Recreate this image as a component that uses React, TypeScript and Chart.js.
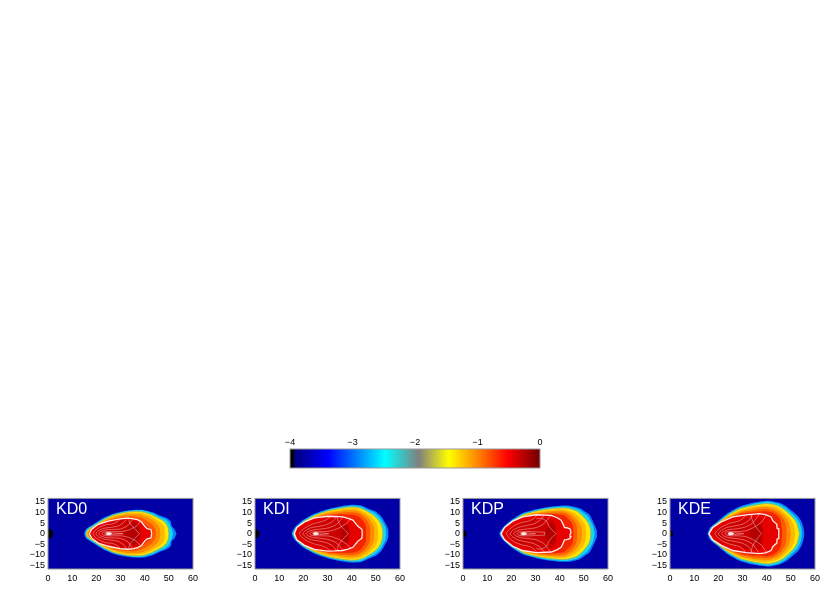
import React, { useEffect, useRef } from "react";
import { Chart, registerables } from "chart.js";

Chart.register(...registerables);

const FONT = "'Liberation Sans', Arial, sans-serif";

const panelNames = ["KD0", "KDI", "KDP", "KDE"];
const xTickValues = [0, 10, 20, 30, 40, 50, 60];
const yTickValues = [-15, -10, -5, 0, 5, 10, 15];
const barTickValues = [-4, -3, -2, -1, 0];

// Outer to inner: filled levels of each panel, upper half as x,y pairs
const bandColors = ["#0a80ff", "#14d8e8", "#ffe800", "#ffb800", "#ff8c00", "#ff5a00", "#f42400", "#e60000", "#cc0000", "#b40000"];
const bandEdges = ["#0a80ff", "#14d8e8", "#a8a860", "#ffb800", "#ff8c00", "#ff5a00", "#f42400", "#ffeeee", "#cc0000", "#b40000"];

const kd0Bands = [
  [15, 0, 15.7, 2.1, 18.7, 4.4, 22.9, 7.4, 27, 9.4, 31.2, 10.6, 35.3, 11.2, 39.4, 11.2, 43.6, 10, 46.3, 8.5, 49, 7.4, 50.8, 5.9, 51.2, 3.6, 52.4, 2.1, 53.2, 0],
  [15.4, 0, 16, 1.9, 19, 4.2, 23.2, 7.1, 27.2, 9.1, 31.4, 10.3, 35.3, 10.9, 39.3, 10.9, 43.3, 9.6, 46, 8, 48.6, 6.8, 50, 5.3, 50.7, 3.4, 51.4, 1.9, 51.8, 0],
  [15.8, 0, 16.5, 1.7, 19.4, 3.9, 23.5, 6.8, 27.4, 8.8, 31.5, 9.9, 35.2, 10.4, 39, 10.3, 42.5, 9.1, 45.5, 7.4, 47.7, 6, 49, 4.5, 49.8, 2.5, 50, 0],
  [16.1, 0, 16.9, 1.6, 19.8, 3.7, 23.8, 6.5, 27.6, 8.4, 31.6, 9.4, 35.1, 9.8, 38.7, 9.6, 41.8, 8.5, 44.6, 6.8, 46.7, 5.2, 48, 3.5, 48.4, 0],
  [16.4, 0, 17.2, 1.6, 20.1, 3.9, 24, 6.3, 27.8, 8, 31.7, 8.9, 35.1, 9.1, 38.3, 8.9, 41, 7.8, 43.5, 6.1, 45.4, 4.2, 46.3, 2, 46.5, 0],
  [16.7, 0, 17.5, 1.8, 20.4, 4.1, 24.4, 5.9, 28.5, 7.4, 32, 8, 35.2, 8.2, 38.2, 7.7, 40.5, 6.5, 42.5, 5, 44, 3, 44.6, 1.5, 44.7, 0],
  [17, 0, 17.8, 2, 20.6, 4.2, 24.7, 5.8, 29.5, 7, 35.3, 7.1, 39, 5.6, 41, 3.5, 43, 2, 43.2, 0],
  [17.1, 0, 18.1, 2.1, 20.8, 4.4, 25, 5.9, 29.8, 7, 33, 7.3, 35.3, 7, 37, 6.6, 38.7, 5.5, 40, 3.5, 41, 2.4, 42.6, 2, 42.9, 0],
  [19, 0, 20, 2, 23, 4, 27, 5.5, 31, 6.4, 35, 6.5, 37.6, 5, 38.2, 3, 37.5, 0],
  [32, 0, 33, 3, 35.5, 5, 37, 4, 38, 1.5, 38.4, 0],
];
const kdiBands = [
  [15.2, 0, 16.4, 2.9, 19.8, 6.4, 24.6, 9.4, 30, 11.5, 35.6, 12.9, 40, 13.6, 44, 13.3, 46.6, 12, 50, 10.4, 52.2, 8.2, 53.2, 6.5, 54.6, 3.6, 55.2, 1.5, 55.2, 0],
  [15.6, 0, 16.8, 2.8, 20.1, 6.1, 24.8, 9.1, 30.2, 11.2, 35.7, 12.5, 40, 13.1, 43.7, 12.8, 46.2, 11.5, 49.4, 9.8, 51.6, 7.6, 52.8, 5.5, 53.9, 3.2, 54.3, 0],
  [16, 0, 17.2, 2.7, 20.4, 5.8, 25, 8.7, 30.4, 10.8, 35.8, 12, 40, 12.5, 43.3, 12.1, 45.8, 10.9, 48.6, 9, 50.8, 6.8, 52, 4.8, 52.7, 2.4, 52.9, 0],
  [16.3, 0, 17.5, 2.7, 20.7, 5.5, 25.2, 8.3, 30.5, 10.3, 35.9, 11.4, 40, 11.8, 43, 11.4, 45.3, 10.2, 47.8, 8.2, 49.6, 6, 50.6, 3.8, 51, 0],
  [16.6, 0, 17.7, 2.7, 21, 5.2, 25.3, 7.9, 30.6, 9.8, 36, 10.7, 40, 11, 42.7, 10.6, 44.8, 9.4, 47, 7.4, 48.4, 5.3, 49.2, 3, 49.4, 0],
  [16.8, 0, 17.9, 2.7, 21.2, 5.1, 25.4, 7.6, 30.6, 9.2, 36, 9.9, 40, 10.1, 42.4, 9.7, 44.2, 8.6, 46, 6.7, 47.2, 4.5, 47.7, 2.2, 47.7, 0],
  [17, 0, 18, 2.7, 21.2, 5.1, 25.2, 7.4, 30.5, 8.7, 36.1, 9, 40.2, 8.9, 42.2, 8.4, 43.7, 7.3, 45.1, 5.5, 45.9, 3.5, 46, 0],
  [16.3, 0, 17.3, 2.9, 20.5, 5.5, 24.6, 7.4, 30.1, 8.2, 33, 8.1, 36.3, 7.9, 38.5, 7.2, 40.5, 6.4, 41.5, 5, 42.5, 3.6, 44.2, 2.1, 44.4, 0],
  [18, 0, 19, 2, 22, 4.2, 26, 5.9, 30.5, 7, 35, 7, 37.5, 6, 38.5, 4, 38.7, 2, 38.5, 0],
  [35.5, 0, 36, 2.5, 37.5, 4.5, 38.8, 3, 39.2, 0],
];
const kdpBands = [
  [15, 0, 16.5, 2.9, 19.9, 6.4, 24.7, 9.7, 30.3, 11.5, 35.8, 12.7, 40.5, 13.2, 44, 13.2, 48.4, 12, 50.5, 10.4, 52.3, 9, 53.5, 6.5, 54.5, 4, 55.4, 1.5, 55.4, 0],
  [15.4, 0, 16.9, 2.8, 20.2, 6.1, 24.9, 9.4, 30.5, 11.2, 35.9, 12.3, 40.4, 12.8, 43.7, 12.7, 47.8, 11.4, 49.9, 9.8, 51.6, 8.2, 52.8, 6, 53.9, 3.5, 54.5, 0],
  [15.8, 0, 17.3, 2.7, 20.5, 5.8, 25.1, 9, 30.6, 10.7, 36, 11.7, 40.3, 12.1, 43.3, 12, 47, 10.7, 49, 8.9, 50.6, 7, 52, 4.8, 52.7, 2.4, 52.9, 0],
  [16, 0, 17.5, 2.7, 20.8, 5.6, 25.3, 8.6, 30.8, 10.2, 36.1, 11.1, 40.2, 11.5, 43, 11.2, 46, 9.8, 48, 7.9, 49.5, 6, 50.6, 3.8, 51, 0],
  [16.2, 0, 17.6, 2.7, 21, 5.5, 25.4, 8.2, 30.9, 9.8, 36.2, 10.6, 40.1, 10.8, 42.6, 10.4, 45, 9, 46.9, 7, 48.2, 5, 49, 3, 49.3, 0],
  [16.4, 0, 17.8, 2.7, 21.2, 5.5, 25.5, 8, 30.9, 9.4, 36.3, 9.9, 40, 10, 42.2, 9.6, 44.2, 8.2, 45.8, 6.3, 46.9, 4.2, 47.2, 2, 47.2, 0],
  [16.6, 0, 18, 2.7, 21.3, 5.6, 25.5, 7.9, 30.8, 9.1, 36.4, 9.3, 40, 9, 42, 8.5, 43.3, 7.1, 44.8, 5.4, 45.5, 3.3, 45.7, 0],
  [15.8, 0, 17.2, 2.9, 20.6, 5.9, 24.7, 7.9, 30.3, 8.9, 36.5, 8.6, 39, 7.5, 40.6, 6.4, 41.4, 4.5, 42, 2.9, 42.8, 2.8, 44.2, 2.3, 44.6, 1.4, 44.3, 0],
  [17.5, 0, 18.8, 2, 22, 4.4, 26.3, 6.2, 31, 7.3, 35.5, 7.2, 37.5, 6, 38.5, 3.5, 38.6, 0],
  [33.5, 0, 34.5, 2.3, 36.5, 5, 38, 3, 38.5, 0],
];
const kdeBands = [
  [15.6, 0, 16.6, 2.9, 19.8, 5.9, 23.9, 9.7, 28.7, 12.7, 34.3, 14.5, 40.4, 15.5, 45.3, 14.5, 48.5, 12.6, 50.7, 10.5, 53, 8.2, 54.3, 5.9, 55.2, 3, 55.6, 0],
  [16, 0, 17, 2.8, 20.1, 5.7, 24.2, 9.4, 29, 12.3, 34.5, 14, 40.3, 15, 45, 14, 48, 12, 50.1, 9.9, 52.3, 7.6, 53.5, 5.4, 54.3, 2.8, 54.6, 0],
  [16.3, 0, 17.3, 2.7, 20.4, 5.5, 24.5, 9, 29.2, 11.8, 34.6, 13.3, 40.2, 14.2, 44.5, 13.2, 47.3, 11.3, 49.4, 9.2, 51.3, 7, 52.5, 4.8, 53.1, 2.5, 53.6, 0],
  [16.6, 0, 17.6, 2.8, 20.7, 5.5, 24.8, 8.6, 29.4, 11.2, 34.8, 12.7, 40.1, 13.3, 44, 12.4, 46.6, 10.6, 48.6, 8.5, 50.1, 6.4, 51.3, 4, 51.8, 0],
  [16.8, 0, 17.8, 2.8, 21, 5.5, 25, 8.3, 29.6, 10.7, 35, 12, 40, 12.5, 43.5, 11.6, 46, 9.9, 47.8, 7.7, 49, 5.7, 49.7, 3.2, 50, 0],
  [17, 0, 18, 2.8, 21.2, 5.4, 25.2, 8, 29.8, 10.1, 35.1, 11.2, 40, 11.6, 43, 10.8, 45.3, 9.1, 46.9, 6.9, 47.8, 5, 48.2, 2.5, 48.2, 0],
  [17.1, 0, 18.1, 2.9, 21.3, 5.5, 25.6, 7.8, 30, 9.5, 35.2, 10.3, 39.9, 10.6, 42.5, 9.9, 44.6, 8.2, 45.8, 6, 46.2, 3, 46.4, 0],
  [16.1, 0, 17.7, 2.9, 21.2, 5.5, 26, 7.9, 31.5, 8.9, 37, 9.4, 39.5, 9, 41.8, 7.9, 42.6, 6, 44.2, 4.4, 44.3, 2.5, 45, 2.3, 45, 0],
  [18, 0, 19.3, 2, 22.5, 4.2, 27, 6.2, 32, 7.4, 36.5, 7.6, 38, 6, 38.3, 3.5, 38, 0],
  [33, 0, 34, 2.5, 36, 5, 38, 3.5, 38.4, 0],
];

// Thin interior contour lines, upper half as x,y pairs
const kd0Lines = [
  [18.6, 0, 19.4, 1.4, 21.2, 3, 24, 4.2, 26.8, 4.6, 28.6, 5.6, 30, 7],
  [19.8, 0, 20.8, 1.4, 23, 2.5, 26, 3, 29, 3.6, 31, 5, 32.5, 6.8],
  [21, 0, 21.8, 1, 24, 1.8, 27, 2, 30, 2.2, 33, 3.8, 35, 6.8],
  [22.3, 0, 23, 0.7, 25, 1, 27.5, 1, 30.5, 1, 33.5, 1.8, 36.5, 3.5, 38.2, 5.5],
  [23.4, 0, 24, 0.4, 25.5, 0.5, 27.5, 0.3, 31, 0],
  [37.8, 0, 36.5, 1.5, 35, 3.4, 33.8, 5, 33.4, 6.8],
];
const kdiLines = [
  [18.4, 0, 19.4, 1.6, 21.6, 3.4, 24.5, 4.8, 27.4, 5.6, 29.6, 6.6, 31, 8],
  [19.8, 0, 20.8, 1.4, 23.2, 2.8, 26.2, 3.4, 29.4, 4.2, 32, 5.6, 33.8, 8],
  [21.2, 0, 22, 1, 24.2, 1.8, 27.4, 2.2, 30.6, 2.8, 33.8, 4.4, 36.4, 7.8],
  [22.6, 0, 23.2, 0.7, 25.2, 1, 28, 1, 31, 1.2, 34.6, 2.6, 38, 5, 39.4, 6.8],
  [23.8, 0, 24.4, 0.4, 25.8, 0.5, 27.8, 0.3, 30.5, 0],
  [38.6, 0, 37.2, 1.6, 35.6, 3.6, 34.4, 5.8, 34, 8],
];
const kdpLines = [
  [18, 0, 19, 1.8, 21.2, 3.8, 24.2, 5.2, 27.4, 6, 29.4, 7.2, 30.6, 8.8],
  [19.5, 0, 20.5, 1.5, 23, 3, 26, 3.8, 29.2, 4.6, 31.8, 6.2, 33.6, 8.7],
  [20.9, 0, 21.8, 1, 24, 1.9, 27.2, 2.3, 30.4, 2.9, 33.4, 4.6, 36.2, 8.4],
  [22.3, 0, 23, 0.7, 25, 1, 27.8, 1, 31, 0.8, 34, 0.6, 33.5, 0],
  [23.5, 0, 24.2, 0.4, 25.6, 0.5, 27.6, 0.3, 30, 0],
  [38.4, 0, 37, 1.5, 35.5, 3.6, 34.6, 5.8, 32.6, 7.2, 30.4, 7],
];
const kdeLines = [
  [18.6, 0, 19.6, 1.6, 22, 3.6, 25, 5, 28, 5.8, 30, 7, 31.4, 8.8],
  [20, 0, 21, 1.4, 23.4, 2.9, 26.6, 3.6, 29.8, 4.4, 32.4, 6, 34.2, 9],
  [21.4, 0, 22.2, 1, 24.4, 1.9, 27.6, 2.3, 30.8, 3, 34, 4.8, 37, 9.2],
  [22.7, 0, 23.4, 0.7, 25.4, 1, 28.2, 1, 31.4, 1.4, 34.8, 3, 38, 5.6, 39.8, 8.8],
  [23.9, 0, 24.5, 0.4, 25.9, 0.5, 27.9, 0.3, 30.5, 0],
  [37.8, 0, 36.4, 1.8, 35, 4.2, 34, 6.4, 33.6, 8.8],
];
const hotCore = [24, 0, 24.6, 0.6, 25.6, 0.6, 26.4, 0];

const panelBands = [kd0Bands, kdiBands, kdpBands, kdeBands];
const panelLines = [kd0Lines, kdiLines, kdpLines, kdeLines];
const planetRadius = [5, 4.5, 3.5, 3];
const plotLefts = [48, 255, 463, 670];

const barStops = [0, 0.012, 0.02, 0.153, 0.267, 0.38, 0.515, 0.635, 0.755, 0.87, 0.985, 1];
const barColors = ["#000000", "#000000", "#00007f", "#0000ff", "#0080ff", "#00ffff", "#808080", "#ffff00", "#ff8000", "#ff0000", "#800000", "#800000"];

// Turns an upper-half list of x,y pairs into the whole outline, lower half mirrored.
function outline(flat: number[]) {
  const top: { x: number; y: number }[] = [];
  for (let i = 0; i < flat.length; i += 2) top.push({ x: flat[i], y: flat[i + 1] });
  const lower = top.map((p) => ({ x: p.x, y: -p.y }));
  return [...top.slice().reverse(), ...lower.slice(1)];
}

const minus = (v: number) => String(v).replace("-", "\u2212");

function framePlugin(label?: string) {
  return {
    id: "frame",
    afterDraw(chart: any) {
      const { ctx, chartArea: a } = chart;
      ctx.save();
      ctx.strokeStyle = "#999999";
      ctx.lineWidth = 1;
      ctx.strokeRect(a.left, a.top, a.right - a.left, a.bottom - a.top);
      if (label) {
        ctx.fillStyle = "#ffffff";
        ctx.font = `16px ${FONT}`;
        ctx.textBaseline = "alphabetic";
        ctx.fillText(label, a.left + 8, a.top + 16);
      }
      ctx.restore();
    },
  };
}

function Panel({ index }: { index: number }) {
  const ref = useRef<HTMLCanvasElement>(null);
  useEffect(() => {
    const bands = panelBands[index].map((b, i) => ({
      data: outline(b),
      showLine: true,
      fill: "shape",
      backgroundColor: bandColors[i],
      borderColor: bandEdges[i],
      borderWidth: i === 7 ? 1.3 : i === 2 ? 0.8 : 0,
      tension: i === 7 ? 0 : 0.2,
      pointRadius: 0,
      order: 100 - i,
    }));
    const lines = panelLines[index].map((l, i) => ({
      data: outline(l),
      showLine: true,
      fill: false,
      borderColor: "rgba(255,215,215,0.65)",
      borderWidth: 0.7,
      tension: 0.2,
      pointRadius: 0,
      order: 50 - i,
    }));
    const core = {
      data: outline(hotCore),
      showLine: true,
      fill: "shape",
      backgroundColor: "#ffe8e8",
      borderColor: "#ffffff",
      borderWidth: 0.5,
      pointRadius: 0,
      order: 10,
    };
    const planet = {
      data: [{ x: 0, y: 0 }],
      showLine: false,
      backgroundColor: "#000000",
      borderWidth: 0,
      pointRadius: planetRadius[index],
      order: 5,
    };
    const tickFont = { family: FONT, size: 9 };
    const chart = new Chart(ref.current!, {
      type: "scatter",
      data: { datasets: [...bands, ...lines, core, planet] as any },
      options: {
        animation: false,
        responsive: false,
        layout: { padding: { top: 6, right: 15, left: 0, bottom: 0 } },
        plugins: { legend: { display: false }, tooltip: { enabled: false } },
        scales: {
          x: {
            type: "linear",
            min: 0,
            max: 60,
            grid: { display: false, drawTicks: false },
            border: { display: false },
            afterBuildTicks: (s: any) => {
              s.ticks = xTickValues.map((value) => ({ value }));
            },
            afterFit: (s: any) => {
              s.height = 21;
            },
            ticks: { color: "#000", font: tickFont, padding: 4, maxRotation: 0, autoSkip: false },
          },
          y: {
            type: "linear",
            min: -16.6,
            max: 16.6,
            grid: { display: false, drawTicks: false },
            border: { display: false },
            afterBuildTicks: (s: any) => {
              s.ticks = yTickValues.map((value) => ({ value }));
            },
            afterFit: (s: any) => {
              s.width = 40;
            },
            ticks: { color: "#000", font: tickFont, padding: 3, autoSkip: false, callback: (v: any) => minus(v) },
          },
        },
      },
      plugins: [
        {
          id: "bg",
          beforeDatasetsDraw(c: any) {
            const { ctx, chartArea: a } = c;
            ctx.fillStyle = "#0000a4";
            ctx.fillRect(a.left, a.top, a.right - a.left, a.bottom - a.top);
          },
        },
        framePlugin(panelNames[index]),
      ],
    } as any);
    return () => chart.destroy();
  }, [index]);
  return (
    <canvas
      ref={ref}
      width={200}
      height={100}
      style={{ position: "absolute", left: plotLefts[index] - 40, top: 490, width: 200, height: 100, filter: "blur(0.5px)" }}
    />
  );
}

function ColorBar() {
  const ref = useRef<HTMLCanvasElement>(null);
  useEffect(() => {
    const chart = new Chart(ref.current!, {
      type: "bar",
      data: {
        labels: ["scale"],
        datasets: [
          {
            data: [[-4, 0]],
            barPercentage: 1,
            categoryPercentage: 1,
            borderWidth: 0,
            backgroundColor: (c: any) => {
              const { ctx, chartArea: a } = c.chart;
              if (!a) return "#0000ff";
              const g = ctx.createLinearGradient(a.left, 0, a.right, 0);
              barStops.forEach((s, i) => g.addColorStop(s, barColors[i]));
              return g;
            },
          },
        ],
      },
      options: {
        animation: false,
        responsive: false,
        indexAxis: "y",
        layout: { padding: { left: 20, right: 20, top: 0, bottom: 12 } },
        plugins: { legend: { display: false }, tooltip: { enabled: false } },
        scales: {
          x: {
            type: "linear",
            position: "top",
            min: -4,
            max: 0,
            grid: { display: false, drawTicks: false },
            border: { display: false },
            afterBuildTicks: (s: any) => {
              s.ticks = barTickValues.map((value) => ({ value }));
            },
            afterFit: (s: any) => {
              s.height = 19;
            },
            ticks: { color: "#000", font: { family: FONT, size: 9 }, padding: 1, maxRotation: 0, autoSkip: false, callback: (v: any) => minus(v) },
          },
          y: { display: false },
        },
      },
      plugins: [framePlugin()],
    } as any);
    return () => chart.destroy();
  }, []);
  return (
    <canvas
      ref={ref}
      width={290}
      height={50}
      style={{ position: "absolute", left: 270, top: 430, width: 290, height: 50, filter: "blur(0.4px)" }}
    />
  );
}

export default function App() {
  return (
    <div style={{ position: "absolute", left: 0, top: 0, width: 830, height: 600, background: "#fff", overflow: "hidden" }}>
      <ColorBar />
      {panelNames.map((_, i) => (
        <Panel key={i} index={i} />
      ))}
    </div>
  );
}
